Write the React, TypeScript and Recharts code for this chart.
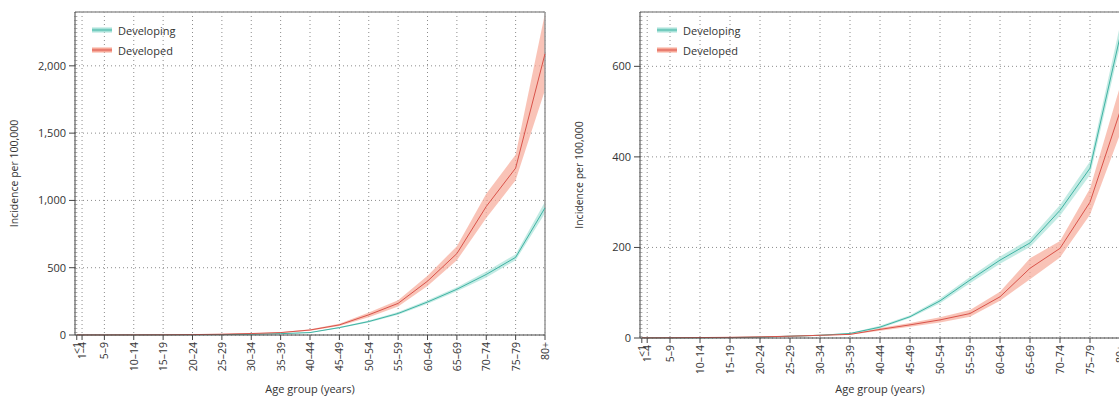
import {
  ComposedChart, Line, Area, XAxis, YAxis, CartesianGrid, Legend, ReferenceLine, Label,
} from 'recharts'

// age groups and where they sit on the numeric age axis
const AGE_GROUPS = ['<1', '1–4', '5–9', '10–14', '15–19', '20–24', '25–29', '30–34', '35–39',
  '40–44', '45–49', '50–54', '55–59', '60–64', '65–69', '70–74', '75–79', '80+']
const AGE_POS = [0.3, 1.2, 5, 10, 15, 20, 25, 30, 35, 40, 45, 50, 55, 60, 65, 70, 75, 80]

// left panel
const DEVELOPING_L =    [1, 0.5, 0.5, 0.5, 1, 2, 3, 6, 10, 18, 55, 100, 160, 245, 340, 450, 577, 945]
const DEVELOPING_L_LO = [0.5, 0.3, 0.3, 0.3, 0.7, 1.5, 2.5, 5, 9, 16, 50, 93, 150, 232, 325, 428, 555, 905]
const DEVELOPING_L_HI = [1.5, 0.7, 0.7, 0.7, 1.3, 2.5, 3.5, 7, 11, 20, 60, 107, 170, 258, 355, 472, 600, 990]
const DEVELOPED_L =     [1, 0.5, 0.5, 1, 1.5, 3, 6, 11, 18, 37, 75, 150, 235, 400, 605, 955, 1240, 2090]
const DEVELOPED_L_LO =  [0.5, 0.3, 0.3, 0.7, 1, 2, 5, 9, 15, 32, 66, 132, 212, 365, 555, 870, 1150, 1820]
const DEVELOPED_L_HI =  [1.5, 0.7, 0.7, 1.3, 2, 4, 7, 13, 21, 42, 84, 168, 258, 440, 660, 1050, 1340, 2390]
const TICKS_L = [0, 500, 1000, 1500, 2000]

// right panel
const DEVELOPING_R =    [0.5, 0.3, 0.3, 0.5, 1, 2, 4, 6, 10, 24, 47, 82, 128, 172, 210, 282, 375, 665]
const DEVELOPING_R_LO = [0.3, 0.2, 0.2, 0.3, 0.8, 1.5, 3, 5, 9, 21, 44, 77, 121, 164, 201, 270, 360, 645]
const DEVELOPING_R_HI = [0.7, 0.4, 0.4, 0.7, 1.2, 2.5, 5, 7, 11, 27, 50, 87, 135, 180, 219, 294, 390, 690]
const DEVELOPED_R =     [0.5, 0.3, 0.5, 1, 1.5, 2.5, 4, 6, 8, 19, 29, 40, 54, 91, 154, 198, 300, 500]
const DEVELOPED_R_LO =  [0.3, 0.2, 0.3, 0.7, 1, 2, 3, 5, 7, 16, 25, 34, 47, 82, 130, 178, 272, 450]
const DEVELOPED_R_HI =  [0.7, 0.4, 0.7, 1.3, 2, 3, 5, 7, 9, 22, 33, 46, 62, 102, 176, 214, 330, 555]
const TICKS_R = [0, 200, 400, 600]

const TEAL = '#3fb3a3'
const TEAL_BAND = '#a9e2d9'
const RED = '#d9534a'
const RED_BAND = '#f7a998'
const FONT = '"Open Sans", sans-serif'

function build(dg: number[], dgLo: number[], dgHi: number[], dd: number[], ddLo: number[], ddHi: number[]) {
  return AGE_POS.map((x, i) => ({
    x,
    developing: dg[i],
    developingBand: [dgLo[i], dgHi[i]],
    developed: dd[i],
    developedBand: [ddLo[i], ddHi[i]],
  }))
}

const labelFor = (v: number) => AGE_GROUPS[AGE_POS.indexOf(v)] ?? ''

function AgeTick({ x, y, payload }: any) {
  return (
    <text x={x} y={y} transform={`rotate(-90 ${x} ${y})`} textAnchor="end" dominantBaseline="central"
      fontSize={10.5} fill="#333" fontFamily={FONT}>
      {labelFor(payload.value)}
    </text>
  )
}

function LegendBox() {
  const rows = [
    { name: 'Developing', line: TEAL, band: TEAL_BAND },
    { name: 'Developed', line: RED, band: RED_BAND },
  ]
  return (
    <div style={{ fontFamily: FONT, fontSize: 11, color: '#333' }}>
      {rows.map(r => (
        <div key={r.name} style={{ display: 'flex', alignItems: 'center', height: 20 }}>
          <svg width={20} height={8} style={{ marginRight: 6 }}>
            <rect x={0} y={1.5} width={20} height={5} fill={r.band} />
            <line x1={0} x2={20} y1={4} y2={4} stroke={r.line} strokeWidth={1} />
          </svg>
          <span>{r.name}</span>
        </div>
      ))}
    </div>
  )
}

interface PanelProps {
  data: ReturnType<typeof build>
  yMax: number
  ticks: number[]
  width: number
  yWidth: number
  xHeight: number
  legendLeft: number
}

function Panel({ data, yMax, ticks, width, yWidth, xHeight, legendLeft }: PanelProps) {
  const plotBottom = 405 - xHeight
  const midY = (12 + plotBottom) / 2
  const plotMidX = (yWidth + width - 15) / 2
  return (
    <ComposedChart width={width} height={405} data={data} margin={{ top: 12, right: 15, bottom: 0, left: 0 }}>
      <CartesianGrid stroke="#8c8c8c" strokeDasharray="1 3" />
      <XAxis dataKey="x" type="number" domain={[0, 80]} ticks={AGE_POS} interval={0} height={xHeight}
        tick={<AgeTick />} tickSize={5} tickMargin={2} stroke="#444" allowDecimals>
        <Label content={() => (
          <text x={plotMidX} y={393} textAnchor="middle" fontSize={11} fill="#333" fontFamily={FONT}>
            Age group (years)
          </text>
        )} />
      </XAxis>
      <YAxis type="number" domain={[0, yMax]} ticks={ticks} width={yWidth} tickSize={6} tickMargin={3}
        tickFormatter={(v: number) => v.toLocaleString('en-US')} stroke="#444"
        tick={{ fontSize: 11, fill: '#333', fontFamily: FONT }}>
        <Label content={() => (
          <text x={yWidth - 57} y={midY} transform={`rotate(-90 ${yWidth - 57} ${midY})`} textAnchor="middle"
            fontSize={10.5} fill="#333" fontFamily={FONT}>
            Incidence per 100,000
          </text>
        )} />
      </YAxis>
      <ReferenceLine y={yMax} stroke="#999" strokeWidth={1.5} />
      <ReferenceLine x={80} stroke="#999" strokeWidth={1.5} />
      <Area dataKey="developedBand" stroke="none" fill={RED_BAND} fillOpacity={0.7} isAnimationActive={false} />
      <Area dataKey="developingBand" stroke="none" fill={TEAL_BAND} fillOpacity={0.7} isAnimationActive={false} />
      <Line dataKey="developing" stroke={TEAL} strokeWidth={1} dot={false} isAnimationActive={false} />
      <Line dataKey="developed" stroke={RED} strokeWidth={1} dot={false} isAnimationActive={false} />
      <Legend layout="vertical" align="center" verticalAlign="middle" content={() => <LegendBox />}
        wrapperStyle={{ left: legendLeft, top: 20, width: 'auto' }} />
    </ComposedChart>
  )
}

const dataLeft = build(DEVELOPING_L, DEVELOPING_L_LO, DEVELOPING_L_HI, DEVELOPED_L, DEVELOPED_L_LO, DEVELOPED_L_HI)
const dataRight = build(DEVELOPING_R, DEVELOPING_R_LO, DEVELOPING_R_HI, DEVELOPED_R, DEVELOPED_R_LO, DEVELOPED_R_HI)

export default function App() {
  return (
    <div style={{ position: 'absolute', left: 0, top: 0, width: 1119, height: 405, overflow: 'hidden', background: '#fff' }}>
      <div style={{ position: 'absolute', left: 0, top: 0 }}>
        <Panel data={dataLeft} yMax={2400} ticks={TICKS_L} width={560} yWidth={75} xHeight={70} legendLeft={92} />
      </div>
      <div style={{ position: 'absolute', left: 560, top: 0 }}>
        <Panel data={dataRight} yMax={720} ticks={TICKS_R} width={575} yWidth={80} xHeight={67} legendLeft={97} />
      </div>
    </div>
  )
}
